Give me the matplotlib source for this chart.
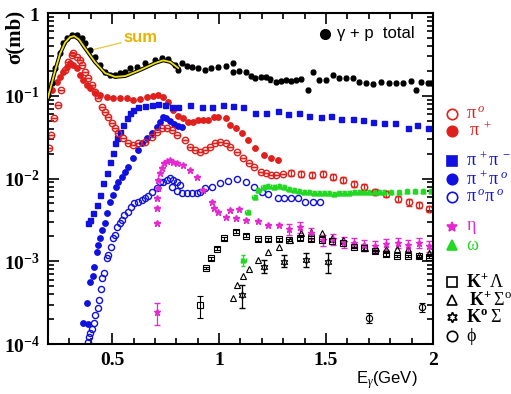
import numpy as np
import matplotlib
matplotlib.use('Agg')
import matplotlib.pyplot as plt
import matplotlib.patheffects as pe

plt.rcParams['mathtext.fontset'] = 'custom'
plt.rcParams['mathtext.rm'] = 'Liberation Serif'
plt.rcParams['mathtext.it'] = 'Liberation Serif:italic'
plt.rcParams['mathtext.bf'] = 'Liberation Serif:bold'

# total photoabsorption gamma + p
tot_E = [0.200, 0.219, 0.233, 0.256, 0.270, 0.289, 0.313, 0.336, 0.359, 0.373, 0.397, 0.420,
         0.443, 0.467, 0.490, 0.514, 0.538, 0.561, 0.584, 0.617, 0.655, 0.702, 0.734, 0.763,
         0.795, 0.809, 0.828, 0.852, 0.875, 0.900, 0.936, 0.960, 0.997, 1.030, 1.063, 1.067,
         1.095, 1.124, 1.150, 1.170, 1.195, 1.217, 1.240, 1.264, 1.290, 1.311, 1.335, 1.358,
         1.385, 1.414, 1.438, 1.466, 1.499, 1.531, 1.560, 1.592, 1.625, 1.653, 1.686, 1.719,
         1.757, 1.794, 1.827, 1.860, 1.897, 1.921, 1.944, 1.977, 1.991]
tot_s = [0.102, 0.142, 0.216, 0.328, 0.434, 0.499, 0.542, 0.542, 0.499, 0.434, 0.357, 0.294,
         0.235, 0.194, 0.178, 0.178, 0.188, 0.194, 0.216, 0.223, 0.249, 0.270, 0.286, 0.278,
         0.235, 0.205, 0.249, 0.230, 0.223, 0.215, 0.205, 0.215, 0.223, 0.230, 0.249, 0.194,
         0.200, 0.194, 0.175, 0.164, 0.170, 0.169, 0.158, 0.147, 0.150, 0.155, 0.150, 0.155,
         0.160, 0.117, 0.194, 0.155, 0.155, 0.178, 0.164, 0.164, 0.164, 0.147, 0.142, 0.138,
         0.147, 0.142, 0.142, 0.142, 0.150, 0.117, 0.147, 0.142, 0.142]

# sum of partial channels
sum_E = [0.200, 0.233, 0.256, 0.280, 0.303, 0.322, 0.345, 0.373, 0.420, 0.467, 0.514, 0.561,
         0.631, 0.702, 0.739, 0.772, 0.809]
sum_s = [0.095, 0.200, 0.320, 0.440, 0.510, 0.527, 0.480, 0.377, 0.255, 0.188, 0.169, 0.173,
         0.205, 0.249, 0.268, 0.256, 0.216]

pi0_E = [0.205, 0.214, 0.228, 0.247, 0.261, 0.280, 0.294, 0.313, 0.317, 0.336, 0.350, 0.359,
         0.373, 0.388, 0.406, 0.420, 0.434, 0.453, 0.467, 0.481, 0.500, 0.514, 0.528, 0.552,
         0.575, 0.598, 0.622, 0.655, 0.688, 0.711, 0.734, 0.758, 0.781, 0.805, 0.842, 0.866,
         0.889, 0.913, 0.936, 0.959, 0.983, 1.006, 1.030, 1.053, 1.086, 1.114, 1.138, 1.161,
         1.194, 1.217, 1.241, 1.264, 1.297, 1.335, 1.381, 1.433, 1.485, 1.531, 1.578, 1.630,
         1.677, 1.728, 1.780, 1.836, 1.888, 1.935, 1.981]
pi0_s = [0.0234, 0.0336, 0.0538, 0.0773, 0.117, 0.205, 0.256, 0.311, 0.328, 0.294, 0.270, 0.235,
         0.194, 0.164, 0.135, 0.111, 0.0940, 0.0730, 0.0636, 0.0553, 0.0468, 0.0407, 0.0354, 0.0308,
         0.0268, 0.0254, 0.0268, 0.0276, 0.0317, 0.0365, 0.0407, 0.0407, 0.0386, 0.0336, 0.0292, 0.0240,
         0.0221, 0.0209, 0.0221, 0.0240, 0.0268, 0.0276, 0.0268, 0.0240, 0.0209, 0.0177, 0.0154, 0.0138,
         0.0120, 0.0117, 0.0110, 0.0110, 0.0114, 0.0117, 0.0114, 0.0110, 0.0114, 0.0104, 0.00959, 0.00861,
         0.00791, 0.00688, 0.00655, 0.00569, 0.00518, 0.00478, 0.00430]

pip_E = [0.219, 0.242, 0.256, 0.270, 0.289, 0.303, 0.317, 0.336, 0.350, 0.364, 0.383, 0.397,
         0.420, 0.443, 0.477, 0.505, 0.538, 0.570, 0.598, 0.631, 0.664, 0.692, 0.716, 0.739,
         0.763, 0.786, 0.809, 0.833, 0.856, 0.880, 0.903, 0.927, 0.950, 0.974, 0.997, 1.030,
         1.053, 1.077, 1.109, 1.133, 1.170, 1.208, 1.241, 1.274]
pip_s = [0.117, 0.147, 0.169, 0.194, 0.223, 0.249, 0.235, 0.216, 0.178, 0.155, 0.135, 0.124,
         0.108, 0.102, 0.0966, 0.0940, 0.0940, 0.0940, 0.0889, 0.0914, 0.0966, 0.0994, 0.102, 0.0966,
         0.0843, 0.0673, 0.0569, 0.0538, 0.0481, 0.0481, 0.0509, 0.0509, 0.0509, 0.0553, 0.0553, 0.0538,
         0.0443, 0.0407, 0.0354, 0.0292, 0.0234, 0.0192, 0.0177, 0.0167]

pipm_E = [0.388, 0.397, 0.411, 0.430, 0.443, 0.458, 0.477, 0.491, 0.505, 0.514, 0.523, 0.538,
          0.552, 0.570, 0.584, 0.598, 0.622, 0.655, 0.688, 0.716, 0.749, 0.781, 0.809, 0.866,
          0.922, 0.969, 1.020, 1.067, 1.114, 1.170, 1.217, 1.274, 1.320, 1.372, 1.419, 1.475,
          1.522, 1.569, 1.625, 1.672, 1.719, 1.771, 1.822, 1.883, 1.925, 1.977]
pipm_s = [0.00288, 0.00315, 0.00388, 0.00478, 0.00632, 0.00884, 0.0117, 0.0159, 0.0204, 0.0268, 0.0308, 0.0365,
          0.0443, 0.0538, 0.0620, 0.0673, 0.0730, 0.0751, 0.0773, 0.0795, 0.0773, 0.0730, 0.0730, 0.0773,
          0.0730, 0.0730, 0.0773, 0.0751, 0.0730, 0.0620, 0.0620, 0.0655, 0.0602, 0.0620, 0.0569, 0.0553,
          0.0569, 0.0523, 0.0523, 0.0509, 0.0481, 0.0468, 0.0468, 0.0407, 0.0443, 0.0407]

pipz_E = [0.364, 0.388, 0.383, 0.397, 0.411, 0.416, 0.430, 0.434, 0.443, 0.453, 0.467, 0.477,
          0.491, 0.505, 0.519, 0.528, 0.547, 0.561, 0.575, 0.598, 0.622, 0.641, 0.664, 0.688,
          0.711, 0.725, 0.739, 0.753, 0.772, 0.791, 0.809, 0.828]
pipz_s = [0.000177, 0.000173, 0.000314, 0.000559, 0.000664, 0.000853, 0.00129, 0.00157, 0.00191, 0.00239, 0.00290, 0.00383,
          0.00520, 0.00632, 0.00789, 0.00908, 0.0104, 0.0120, 0.0138, 0.0177, 0.0221, 0.0268, 0.0308, 0.0354,
          0.0419, 0.0481, 0.0553, 0.0538, 0.0495, 0.0456, 0.0431, 0.0419]

pizz_E = [0.388, 0.392, 0.397, 0.406, 0.416, 0.420, 0.434, 0.439, 0.448, 0.453, 0.463, 0.477,
          0.481, 0.495, 0.505, 0.514, 0.523, 0.538, 0.547, 0.556, 0.575, 0.589, 0.603, 0.622,
          0.641, 0.655, 0.669, 0.688, 0.711, 0.725, 0.739, 0.758, 0.772, 0.786, 0.805, 0.819,
          0.781, 0.805, 0.828, 0.852, 0.875, 0.899, 0.913, 0.936, 0.969, 1.006, 1.044, 1.086,
          1.124, 1.161, 1.199, 1.231, 1.274, 1.302, 1.335, 1.367, 1.400, 1.438, 1.471]
pizz_s = [0.000106, 0.000121, 0.000135, 0.000150, 0.000178, 0.000225, 0.000274, 0.000340, 0.000465, 0.000633, 0.000727, 0.00110,
          0.00119, 0.00148, 0.00191, 0.00208, 0.00260, 0.00290, 0.00315, 0.00362, 0.00395, 0.00453, 0.00505, 0.00520,
          0.00550, 0.00582, 0.00615, 0.00688, 0.00770, 0.00908, 0.00908, 0.00959, 0.0101, 0.00959, 0.00908, 0.00834,
          0.00789, 0.00705, 0.00672, 0.00672, 0.00672, 0.00672, 0.00688, 0.00770, 0.00789, 0.00884, 0.00933, 0.00980,
          0.00908, 0.00789, 0.00688, 0.00655, 0.00582, 0.00582, 0.00582, 0.00582, 0.00520, 0.00520, 0.00520]

eta_E = [0.711, 0.711, 0.711, 0.711, 0.716, 0.716, 0.725, 0.734, 0.744, 0.758, 0.772, 0.786,
         0.805, 0.833, 0.866, 0.899, 0.927, 0.969, 0.978, 0.997, 1.030, 1.053, 1.077, 1.091,
         1.124, 1.180, 1.231, 1.278, 1.325, 1.377, 1.428, 1.485, 1.531, 1.583, 1.630, 1.677,
         1.728, 1.780, 1.836, 1.883, 1.935, 1.981]
eta_s = [0.000244, 0.00290, 0.00440, 0.00581, 0.00768, 0.00959, 0.0117, 0.0134, 0.0154, 0.0163, 0.0167, 0.0158,
         0.0154, 0.0146, 0.0127, 0.0104, 0.00726, 0.00520, 0.00440, 0.00395, 0.00343, 0.00416, 0.00334, 0.00428,
         0.00315, 0.00306, 0.00274, 0.00274, 0.00246, 0.00260, 0.00219, 0.00181, 0.00185, 0.00171, 0.00168, 0.00157,
         0.00154, 0.00163, 0.00168, 0.00157, 0.00168, 0.00154]

omega_E = [1.114, 1.133, 1.166, 1.184, 1.208, 1.231, 1.255, 1.278, 1.302, 1.325, 1.349, 1.372,
           1.396, 1.419, 1.442, 1.466, 1.489, 1.513, 1.536, 1.560, 1.583, 1.606, 1.630, 1.653,
           1.677, 1.700, 1.724, 1.747, 1.770, 1.803, 1.841, 1.878, 1.916, 1.953, 1.991]
omega_s = [0.00104, 0.00395, 0.00599, 0.00726, 0.00789, 0.00811, 0.00789, 0.00811, 0.00789, 0.00750, 0.00726, 0.00706,
           0.00688, 0.00688, 0.00672, 0.00672, 0.00672, 0.00672, 0.00655, 0.00672, 0.00672, 0.00672, 0.00688, 0.00688,
           0.00688, 0.00688, 0.00688, 0.00688, 0.00688, 0.00688, 0.00688, 0.00706, 0.00706, 0.00706, 0.00706]

klam_E = [0.913, 0.941, 0.964, 0.992, 1.025, 1.077, 1.128, 1.180, 1.227, 1.278, 1.325, 1.377,
          1.428, 1.480, 1.527, 1.578, 1.630, 1.677, 1.728, 1.780, 1.831, 1.883, 1.935, 1.981]
klam_s = [0.000296, 0.000829, 0.00109, 0.00142, 0.00190, 0.00227, 0.00203, 0.00185, 0.00185, 0.00185, 0.00181, 0.00190,
          0.00185, 0.00181, 0.00177, 0.00168, 0.00150, 0.00143, 0.00132, 0.00122, 0.00116, 0.00116, 0.00116, 0.00113]

ksig_E = [1.063, 1.086, 1.114, 1.138, 1.180, 1.227, 1.278, 1.330, 1.381, 1.428, 1.480, 1.527,
          1.578, 1.630, 1.681, 1.733, 1.780, 1.831, 1.883, 1.935, 1.981]
ksig_s = [0.000360, 0.000516, 0.000664, 0.000808, 0.00104, 0.00129, 0.00149, 0.00181, 0.00219, 0.00226, 0.00219, 0.00191,
          0.00181, 0.00163, 0.00146, 0.00146, 0.00141, 0.00141, 0.00141, 0.00119, 0.00126]

k0sig_E = [1.105, 1.208, 1.302, 1.405, 1.508]
k0sig_s = [0.000391, 0.000853, 0.000990, 0.00104, 0.000990]
k0sig_lo = [0.000272, 0.000713, 0.000853, 0.000853, 0.000713]
k0sig_hi = [0.000516, 0.00104, 0.00119, 0.00126, 0.00126]

phi_E = [1.700, 1.949]
phi_s = [0.000207, 0.000279]
phi_lo = [0.000180, 0.000245]
phi_hi = [0.000235, 0.000315]

red = '#e0201c'
blue = '#1010e0'
mag = '#e628d0'
green = '#22d822'

fig = plt.figure(figsize=(5.11, 3.94), dpi=100)
ax = fig.add_axes([0.0939, 0.1269, 0.7534, 0.8401])
ax.set_yscale('log')

# total
tot_E = np.array(tot_E)
tot_s = np.array(tot_s)
ax.errorbar(tot_E, tot_s, yerr=0.06 * tot_s, fmt='o', color='black', ms=3.4,
            elinewidth=0.8, capsize=1.5, zorder=5)

# sum curve, yellow with dark edge
ax.plot(sum_E, sum_s, color='#f0e000', lw=1.3, zorder=6,
        path_effects=[pe.Stroke(linewidth=2.8, foreground='black'), pe.Normal()])
ax.annotate('sum', xy=(0.41, 0.36), xytext=(0.555, 0.50), color='#e8b400',
            fontsize=12, fontweight='bold', family='Liberation Sans', va='center',
            arrowprops=dict(arrowstyle='-', color='#e8c840', lw=0.9, shrinkA=0, shrinkB=0))

pi0_E = np.array(pi0_E)
pi0_s = np.array(pi0_s)
ax.errorbar(pi0_E, pi0_s, yerr=np.where(pi0_E > 1.3, 0.09 * pi0_s, 0), fmt='o', mfc='none',
            mec=red, ecolor=red, ms=4.6, mew=1.0, elinewidth=0.9, capsize=2)
ax.plot(pip_E, pip_s, 'o', color=red, ms=3.9)
ax.plot(pipm_E, pipm_s, 's', color=blue, ms=3.6)
ax.plot(pipz_E, pipz_s, 'o', color=blue, ms=3.9)
ax.plot(pizz_E, pizz_s, 'o', mfc='none', mec=blue, ms=4.4, mew=1.0)

eta_E = np.array(eta_E)
eta_s = np.array(eta_s)
eta_err = np.where(eta_E > 1.3, 0.15 * eta_s, 0)
eta_err[0] = 0.3 * eta_s[0]
ax.errorbar(eta_E, eta_s, yerr=eta_err, fmt='*', color=mag, ms=4.5, elinewidth=0.9, capsize=2)

omega_s = np.array(omega_s)
om_err = 0.05 * omega_s
om_err[0] = 0.15 * omega_s[0]
ax.errorbar(omega_E, omega_s, yerr=om_err, xerr=0.011, fmt='^', color=green, ms=3.5,
            elinewidth=0.9, capsize=1.5)

klam_s = np.array(klam_s)
kl_err = 0.04 * klam_s
kl_err[0] = 0.3 * klam_s[0]
ax.errorbar(klam_E, klam_s, yerr=kl_err, fmt='s', mfc='none', mec='black', ecolor='black',
            ms=4.3, mew=0.8, elinewidth=0.8, capsize=2)
ax.plot(ksig_E, ksig_s, '^', mfc='none', mec='black', ms=4.5, mew=0.8)

k0sig_s = np.array(k0sig_s)
ax.errorbar(k0sig_E, k0sig_s, yerr=[k0sig_s - np.array(k0sig_lo), np.array(k0sig_hi) - k0sig_s],
            fmt='none', ecolor='black', elinewidth=0.9, capsize=2.5)
ax.plot(k0sig_E, k0sig_s, marker=(6, 1, 0), ls='none', mfc='none', mec='black', ms=5.5, mew=0.8)

phi_s = np.array(phi_s)
ax.errorbar(phi_E, phi_s, yerr=[phi_s - np.array(phi_lo), np.array(phi_hi) - phi_s],
            fmt='o', mfc='none', mec='black', ecolor='black', ms=4.5, mew=0.8,
            elinewidth=0.9, capsize=2.5)

# axes
ax.set_xlim(0.2, 2.0)
ax.set_ylim(1e-4, 1)
ax.set_xticks([0.5, 1.0, 1.5, 2.0])
ax.set_xticklabels(['0.5', '1', '1.5', '2'])
ax.set_xticks(np.arange(0.3, 2.0, 0.1), minor=True)
ax.set_yticks([1e-4, 1e-3, 1e-2, 1e-1, 1])
ax.set_yticklabels([r'$\mathbf{10^{-4}}$', r'$\mathbf{10^{-3}}$', r'$\mathbf{10^{-2}}$',
                    r'$\mathbf{10^{-1}}$', r'$\mathbf{1}$'])
ax.tick_params(which='both', direction='in', top=True, right=True, width=1.2)
ax.tick_params(which='major', length=8, labelsize=14, pad=6)
ax.tick_params(which='minor', length=4)
for lab in ax.get_xticklabels():
    lab.set_fontfamily('Liberation Serif')
    lab.set_fontweight('bold')
for sp in ax.spines.values():
    sp.set_linewidth(1.5)

fig.text(0.028, 0.905, 'σ(mb)', rotation=90, fontsize=15, fontweight='bold',
         family='Liberation Serif', ha='center', va='center')
ax.text(0.96, -0.108, r'E$_\gamma$(GeV)', transform=ax.transAxes, fontsize=12,
        family='Liberation Sans', ha='right', va='center')

# legends
ax.plot(0.719, 0.937, 'o', color='black', ms=7, transform=ax.transAxes, clip_on=False)
ax.text(0.75, 0.937, 'γ + p  total', transform=ax.transAxes, fontsize=12,
        family='Liberation Sans', va='center')

entries = [
    (0.695, dict(marker='o', mfc='none', mec=red), r'$\mathrm{\pi}^{\;o}$', red),
    (0.644, dict(marker='o', mfc=red, mec=red), r'$\;\mathrm{\pi}^{\;+}$', red),
    (0.553, dict(marker='s', mfc=blue, mec=blue), r'$\mathrm{\pi}^{\;+}\mathrm{\pi}^{\;-}$', blue),
    (0.498, dict(marker='o', mfc=blue, mec=blue), r'$\mathrm{\pi}^{\;+}\mathrm{\pi}^{\;o}$', blue),
    (0.444, dict(marker='o', mfc='none', mec=blue), r'$\mathrm{\pi}^{\;o}\mathrm{\pi}^{\;o}$', blue),
    (0.353, dict(marker='*', mfc=mag, mec=mag), r'$\mathrm{\eta}$', mag),
    (0.299, dict(marker='^', mfc=green, mec=green), r'$\mathrm{\omega}$', green),
    (0.187, dict(marker='s', mfc='none', mec='black'), r'$\mathbf{K^{+}}\,\mathrm{\Lambda}$', 'black'),
    (0.133, dict(marker='^', mfc='none', mec='black'), r'$\;\mathbf{K^{+}}\,\mathrm{\Sigma^{o}}$', 'black'),
    (0.082, dict(marker=(6, 1, 0), mfc='none', mec='black'), r'$\mathbf{K^{o}}\;\mathrm{\Sigma}$', 'black'),
    (0.024, dict(marker='o', mfc='none', mec='black'), r'$\mathrm{\phi}$', 'black'),
]
for yy, mk, label, col in entries:
    ax.plot(1.049, yy, ls='none', ms=7.5, mew=1.2, transform=ax.transAxes, clip_on=False, **mk)
    ax.text(1.086, yy, label, color=col, fontsize=13, transform=ax.transAxes, va='center')

fig.savefig('out.png', dpi=100)
